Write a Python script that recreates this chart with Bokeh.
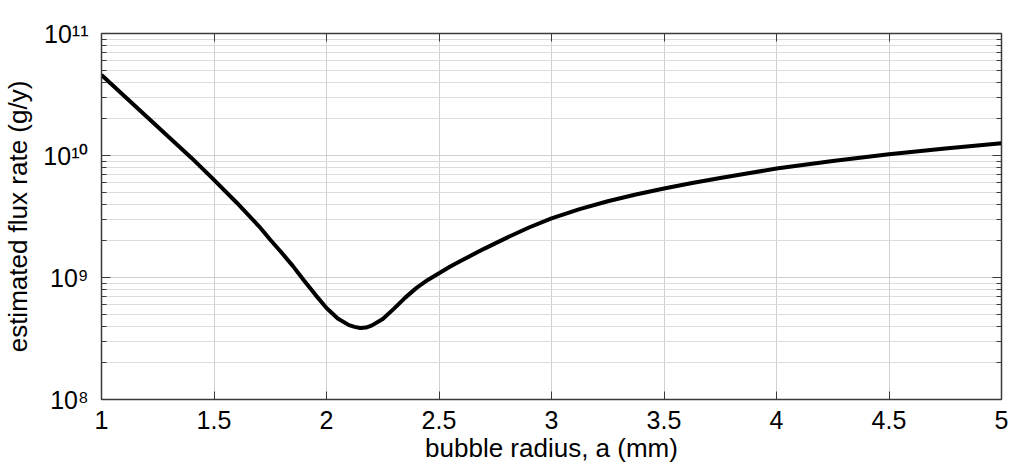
from bokeh.plotting import figure
from bokeh.models import Range1d, LogAxis, LinearAxis, FixedTicker, LogTicker
from bokeh.embed import file_html
from bokeh.resources import INLINE

# bubble radius a (mm) and estimated flux rate (g/y)
radius = [1.00, 1.10, 1.20, 1.30, 1.40, 1.50, 1.60, 1.70, 1.75, 1.80, 1.85, 1.90,
          1.95, 2.00, 2.05, 2.10, 2.125, 2.15, 2.175, 2.20, 2.25, 2.30, 2.35, 2.40,
          2.45, 2.50, 2.55, 2.60, 2.70, 2.80, 2.90, 3.00, 3.125, 3.25, 3.375, 3.50,
          3.625, 3.75, 3.875, 4.00, 4.25, 4.50, 4.75, 5.00]
flux = [4.571e10, 3.090e10, 2.089e10, 1.413e10, 9.55e9, 6.31e9, 4.12e9, 2.63e9,
        2.04e9, 1.603e9, 1.245e9, 9.44e8, 7.24e8, 5.62e8, 4.62e8, 4.07e8, 3.94e8,
        3.86e8, 3.89e8, 4.03e8, 4.57e8, 5.56e8, 6.84e8, 8.22e8, 9.55e8, 1.084e9,
        1.230e9, 1.380e9, 1.718e9, 2.113e9, 2.570e9, 3.055e9, 3.631e9, 4.217e9,
        4.786e9, 5.370e9, 5.957e9, 6.531e9, 7.161e9, 7.816e9, 9.02e9, 1.023e10,
        1.140e10, 1.259e10]

x_ticks = [1, 1.5, 2, 2.5, 3, 3.5, 4, 4.5, 5]
x_tick_labels = ["1", "1.5", "2", "2.5", "3", "3.5", "4", "4.5", "5"]
y_decades = [1e8, 1e9, 1e10, 1e11]
y_tick_labels = ["10\u2078", "10\u2079", "10\u00b9\u2070", "10\u00b9\u00b9"]

FONT = "Liberation Sans"
AX = "#3a3a3a"

p = figure(width=1010, height=465, y_axis_type="log",
           x_range=Range1d(1, 5), y_range=Range1d(1e8, 1e11),
           output_backend="svg", toolbar_location=None,
           min_border_left=100, min_border_right=9,
           min_border_top=33, min_border_bottom=65)
p.background_fill_color = "white"
p.border_fill_color = "white"
p.outline_line_color = AX
p.outline_line_width = 1.5

# x axis (bottom)
xa = p.xaxis[0]
xa.ticker = FixedTicker(ticks=x_ticks)
xa.major_label_overrides = {t: l for t, l in zip(x_ticks, x_tick_labels)}
xa.major_label_text_font = FONT
xa.major_label_text_font_size = "25px"
xa.major_label_text_color = "black"
xa.major_label_standoff = 11
xa.major_tick_in = 8
xa.major_tick_out = 0
xa.minor_tick_line_color = None
xa.axis_line_color = AX
xa.major_tick_line_color = AX
xa.axis_label = "bubble radius, a (mm)"
xa.axis_label_text_font = FONT
xa.axis_label_text_font_size = "26px"
xa.axis_label_text_font_style = "normal"
xa.axis_label_text_color = "black"
xa.axis_label_standoff = 1

# y axis (left)
ya = p.yaxis[0]
ya.ticker = FixedTicker(ticks=y_decades, minor_ticks=[m * d for d in y_decades[:-1] for m in range(2, 10)])
ya.major_label_overrides = {t: l for t, l in zip(y_decades, y_tick_labels)}
ya.major_label_text_font = FONT
ya.major_label_text_font_size = "25px"
ya.major_label_text_color = "black"
ya.major_label_standoff = 13
ya.major_tick_in = 9
ya.major_tick_out = 0
ya.minor_tick_in = 5
ya.minor_tick_out = 0
ya.axis_line_color = AX
ya.major_tick_line_color = AX
ya.minor_tick_line_color = AX
ya.axis_label = "estimated flux rate (g/y)"
ya.axis_label_text_font = FONT
ya.axis_label_text_font_size = "26px"
ya.axis_label_text_font_style = "normal"
ya.axis_label_text_color = "black"
ya.axis_label_standoff = 7

# top and right axes (ticks only)
top = LinearAxis(ticker=FixedTicker(ticks=x_ticks), major_label_text_font_size="1px",
                 major_label_text_color=None,
                 major_label_standoff=0, major_tick_in=8, major_tick_out=0,
                 minor_tick_line_color=None, axis_line_color=AX, major_tick_line_color=AX)
p.add_layout(top, "above")
right = LogAxis(ticker=LogTicker(num_minor_ticks=10), major_label_text_font_size="1px",
                major_label_text_color=None,
                major_label_standoff=0, major_tick_in=9, major_tick_out=0,
                minor_tick_in=5, minor_tick_out=0, axis_line_color=AX,
                major_tick_line_color=AX, minor_tick_line_color=AX)
p.add_layout(right, "right")

# grids
p.xgrid.ticker = FixedTicker(ticks=x_ticks)
p.xgrid.grid_line_color = "#d2d2d2"
p.ygrid.ticker = LogTicker(num_minor_ticks=10)
p.ygrid.grid_line_color = "#cfcfcf"
p.ygrid.minor_grid_line_color = "#dcdcdc"

# curve
p.line(radius, flux, line_color="black", line_width=4, line_join="round")

open("out.html", "w").write(file_html(p, INLINE))
